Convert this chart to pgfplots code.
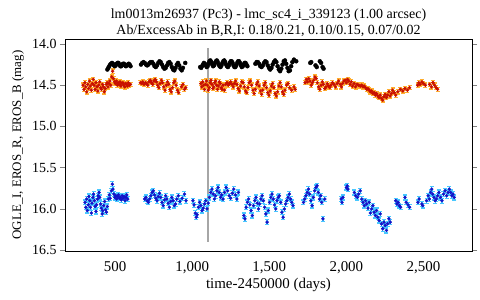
\documentclass[border=0pt]{standalone}
\usepackage{pgfplots}
\usepackage{pgfplotstable}
\pgfplotsset{compat=1.18}
\usepackage{fontspec}
\setmainfont{Liberation Serif}
\definecolor{redpt}{HTML}{C81000}
\definecolor{orhalo}{HTML}{FFAE30}
\definecolor{bluept}{HTML}{1414C8}
\definecolor{cyhalo}{HTML}{48C8FF}

\pgfplotstableread{
x y
450 14.31
456 14.29
462 14.27
468 14.25
474 14.24
480 14.23
486 14.24
492 14.26
498 14.27
504 14.26
510 14.24
516 14.23
522 14.23
528 14.25
534 14.27
540 14.27
546 14.25
552 14.24
558 14.24
564 14.26
570 14.27
576 14.26
582 14.25
588 14.24
594 14.25
600 14.27
668 14.25
676 14.23
684 14.22
692 14.23
700 14.25
708 14.26
716 14.25
724 14.23
732 14.22
740 14.22
748 14.24
756 14.27
764 14.28
772 14.26
780 14.23
788 14.21
796 14.22
804 14.25
812 14.28
820 14.30
828 14.29
836 14.26
844 14.23
852 14.22
860 14.24
868 14.28
876 14.31
884 14.32
892 14.29
900 14.25
908 14.23
916 14.26
924 14.30
932 14.32
940 14.29
955 14.23
1052 14.28
1058 14.29
1064 14.27
1070 14.25
1076 14.23
1082 14.24
1088 14.26
1094 14.28
1100 14.27
1106 14.24
1112 14.21
1118 14.20
1124 14.22
1130 14.25
1136 14.27
1142 14.26
1148 14.23
1154 14.21
1160 14.20
1166 14.22
1172 14.25
1178 14.27
1184 14.28
1190 14.26
1196 14.23
1202 14.21
1208 14.20
1214 14.22
1220 14.25
1226 14.27
1232 14.28
1238 14.26
1244 14.23
1250 14.21
1256 14.21
1262 14.23
1268 14.26
1274 14.28
1280 14.28
1286 14.26
1292 14.23
1298 14.21
1304 14.21
1310 14.23
1316 14.26
1322 14.28
1328 14.27
1334 14.25
1340 14.23
1346 14.23
1352 14.25
1358 14.27
1410 14.24
1418 14.22
1426 14.22
1434 14.24
1442 14.27
1450 14.28
1458 14.26
1466 14.23
1474 14.21
1482 14.22
1490 14.26
1498 14.29
1506 14.31
1514 14.29
1522 14.25
1530 14.22
1538 14.20
1546 14.22
1554 14.27
1562 14.31
1570 14.33
1578 14.30
1586 14.25
1594 14.21
1602 14.20
1610 14.24
1618 14.29
1626 14.33
1634 14.32
1642 14.27
1650 14.22
1660 14.19
1675 14.21
1766 14.23
1772 14.22
1800 14.26
1808 14.28
1828 14.21
1836 14.23
1846 14.28
1852 14.30
}\tblack

\pgfplotstableread{
x y
292 14.50
298 14.55
304 14.47
310 14.52
316 14.58
322 14.49
328 14.54
334 14.45
340 14.51
346 14.56
352 14.48
358 14.43
364 14.50
370 14.55
376 14.47
382 14.52
388 14.57
394 14.50
400 14.46
406 14.53
412 14.55
418 14.49
424 14.52
430 14.58
436 14.54
442 14.49
448 14.47
454 14.52
460 14.48
466 14.45
472 14.50
478 14.40
484 14.33
490 14.42
496 14.46
502 14.48
508 14.45
514 14.50
520 14.47
526 14.49
532 14.46
538 14.51
544 14.48
550 14.47
556 14.50
562 14.52
568 14.48
574 14.49
580 14.51
586 14.47
592 14.50
600 14.49
664 14.47
672 14.48
680 14.46
688 14.49
696 14.47
704 14.48
712 14.50
720 14.46
728 14.44
736 14.47
744 14.49
752 14.45
760 14.43
768 14.46
776 14.50
784 14.53
792 14.48
800 14.44
808 14.47
816 14.52
824 14.56
832 14.50
840 14.46
848 14.49
856 14.55
864 14.58
872 14.53
880 14.47
888 14.45
896 14.50
904 14.56
912 14.59
930 14.52
940 14.49
950 14.55
958 14.53
1056 14.48
1062 14.52
1068 14.46
1074 14.50
1080 14.55
1086 14.49
1092 14.45
1098 14.50
1104 14.56
1110 14.53
1116 14.47
1122 14.44
1128 14.49
1134 14.54
1140 14.52
1146 14.47
1152 14.45
1158 14.50
1164 14.55
1170 14.51
1176 14.46
1182 14.48
1188 14.53
1194 14.55
1200 14.50
1210 14.56
1218 14.49
1226 14.47
1234 14.50
1242 14.48
1250 14.46
1258 14.49
1266 14.52
1274 14.48
1282 14.45
1290 14.49
1298 14.54
1306 14.57
1314 14.51
1322 14.46
1330 14.47
1338 14.52
1346 14.57
1354 14.59
1362 14.53
1370 14.47
1378 14.45
1386 14.50
1394 14.56
1402 14.60
1410 14.55
1418 14.49
1426 14.46
1434 14.51
1442 14.57
1450 14.61
1458 14.56
1466 14.50
1474 14.47
1482 14.53
1490 14.59
1498 14.62
1506 14.57
1514 14.51
1522 14.48
1530 14.53
1538 14.60
1546 14.63
1554 14.58
1562 14.51
1570 14.47
1578 14.52
1586 14.58
1594 14.61
1602 14.56
1612 14.50
1622 14.48
1632 14.53
1645 14.56
1660 14.52
1668 14.55
1732 14.47
1740 14.43
1748 14.46
1756 14.42
1764 14.45
1772 14.50
1780 14.47
1788 14.44
1796 14.40
1804 14.42
1812 14.47
1820 14.52
1828 14.55
1836 14.50
1844 14.46
1852 14.49
1860 14.54
1868 14.52
1876 14.48
1884 14.51
1892 14.53
1900 14.50
1910 14.47
1920 14.49
1930 14.52
1940 14.48
1950 14.45
1960 14.49
1968 14.52
1976 14.48
1984 14.45
1992 14.44
2000 14.47
2008 14.43
2016 14.45
2024 14.49
2032 14.46
2040 14.51
2050 14.48
2060 14.52
2070 14.49
2080 14.50
2090 14.51
2100 14.50
2108 14.52
2116 14.51
2124 14.53
2132 14.55
2140 14.54
2148 14.56
2156 14.58
2164 14.57
2172 14.60
2180 14.59
2188 14.62
2196 14.60
2204 14.63
2212 14.65
2220 14.62
2228 14.66
2236 14.68
2244 14.64
2252 14.61
2260 14.65
2268 14.62
2276 14.58
2284 14.63
2292 14.60
2300 14.56
2310 14.59
2320 14.62
2334 14.58
2350 14.55
2366 14.57
2380 14.54
2396 14.56
2410 14.53
2462 14.50
2470 14.47
2478 14.49
2490 14.46
2500 14.48
2512 14.50
2540 14.49
2552 14.52
2562 14.47
2572 14.50
2582 14.53
2592 14.55
}\tred

\pgfplotstableread{
x y
305 15.92
310 15.98
316 15.88
320 16.02
326 15.95
330 15.85
336 15.90
340 15.98
346 16.05
350 15.93
356 15.86
360 15.82
366 15.90
370 15.97
376 16.03
380 15.95
386 15.88
390 15.84
396 15.80
400 15.86
406 15.94
410 15.99
416 16.06
420 16.02
426 15.96
432 15.91
438 16.01
444 16.04
450 15.97
456 15.88
462 15.83
468 15.87
476 15.78
482 15.70
486 15.76
492 15.82
498 15.86
504 15.84
510 15.88
516 15.85
522 15.83
528 15.87
534 15.86
540 15.89
546 15.84
552 15.87
558 15.85
564 15.90
570 15.86
576 15.83
582 15.88
692 15.88
700 15.86
708 15.90
716 15.92
724 15.88
732 15.84
740 15.80
748 15.78
756 15.83
764 15.87
772 15.90
780 15.85
788 15.81
796 15.86
804 15.92
812 15.96
820 15.89
828 15.84
836 15.88
844 15.93
852 15.98
860 15.91
868 15.86
876 15.90
884 15.96
892 15.94
900 15.88
910 15.84
920 15.91
935 15.87
950 15.82
960 15.90
1005 15.90
1012 15.95
1020 16.05
1026 16.10
1032 16.07
1040 15.98
1048 15.92
1056 15.96
1064 16.02
1072 15.99
1080 15.94
1088 15.90
1096 16.00
1104 15.93
1112 15.86
1120 15.80
1128 15.76
1136 15.82
1144 15.88
1152 15.84
1160 15.78
1168 15.74
1176 15.80
1184 15.86
1192 15.83
1200 15.88
1210 15.80
1220 15.74
1230 15.78
1240 15.84
1250 15.87
1260 15.81
1270 15.76
1280 15.83
1290 15.88
1300 15.80
1335 16.08
1342 16.12
1350 15.98
1358 15.92
1366 15.88
1374 15.95
1382 16.02
1390 16.08
1398 15.96
1406 15.90
1414 15.86
1422 15.93
1430 16.00
1438 15.94
1446 15.88
1454 15.84
1462 15.90
1470 15.98
1478 16.06
1486 16.16
1494 16.02
1502 15.92
1510 15.86
1518 15.82
1526 15.88
1534 15.95
1542 16.00
1550 15.90
1558 15.86
1566 15.84
1574 15.92
1582 16.04
1590 16.10
1598 16.00
1606 15.94
1614 15.90
1622 15.86
1630 15.82
1638 15.88
1646 15.92
1654 15.96
1722 15.92
1730 15.88
1738 15.84
1746 15.80
1754 15.76
1762 15.82
1770 15.90
1778 15.96
1786 15.86
1794 15.78
1802 15.74
1810 15.72
1818 15.80
1826 15.88
1834 15.84
1840 15.92
1848 16.12
1860 15.88
1966 15.88
1972 15.92
1978 15.86
2000 15.74
2006 15.72
2010 15.76
2052 15.80
2060 15.84
2072 15.86
2080 15.82
2090 15.78
2100 15.88
2108 15.92
2116 15.96
2124 15.90
2132 15.94
2140 15.99
2148 15.92
2156 16.05
2164 16.00
2172 15.96
2180 16.04
2188 16.08
2196 16.02
2204 16.10
2212 16.14
2220 16.06
2228 16.18
2236 16.24
2244 16.16
2252 16.20
2260 16.26
2268 16.18
2276 16.12
2284 16.16
2320 15.90
2328 15.94
2336 15.92
2344 15.96
2352 15.98
2380 15.86
2388 15.92
2400 15.95
2410 15.98
2464 15.92
2472 15.88
2490 15.94
2496 15.96
2520 15.90
2530 15.84
2538 15.88
2546 15.80
2554 15.76
2560 15.82
2568 15.86
2576 15.90
2584 15.88
2592 15.84
2600 15.80
2610 15.86
2620 15.90
2630 15.82
2640 15.78
2650 15.84
2660 15.80
2668 15.76
2676 15.80
2684 15.84
2692 15.82
2700 15.86
}\tblue

\begin{document}
\begin{tikzpicture}
\begin{axis}[
  name=ax,
  scale only axis,
  width=407bp, height=212bp,
  xmin=175, xmax=2815,
  ymin=13.94, ymax=16.51,
  y dir=reverse,
  axis line style={line width=0.8bp},
  xtick={500,1000,1500,2000,2500},
  ytick={14,14.5,15,15.5,16,16.5},
  major x tick style={draw=none},
  major y tick style={line width=0.8bp},
  tick align=outside,
  major tick length=5bp,
  /pgf/number format/assume math mode=true,
  x tick label style={/pgf/number format/.cd, 1000 sep={,}, /tikz/.cd, font=\fontsize{15}{17}\selectfont, yshift=-2bp},
  y tick label style={/pgf/number format/.cd, fixed, fixed zerofill, precision=1, /tikz/.cd, font=\fontsize{14}{16}\selectfont},
  title={lm0013m26937 (Pc3) - lmc\_sc4\_i\_339123 (1.00 arcsec)\\Ab/ExcessAb in B,R,I: 0.18/0.21, 0.10/0.15, 0.07/0.02},
  title style={align=center, font=\fontsize{14}{16}\selectfont, at={(axis description cs:0.5,1.047)}, anchor=center},
  xlabel={time-2450000 (days)},
  xlabel style={font=\fontsize{15}{17}\selectfont, at={(axis description cs:0.5,-0.16)}, anchor=center},
  ylabel={OGLE\_I, EROS\_R, EROS\_B (mag)},
  ylabel style={font=\fontsize{13}{15}\selectfont, at={(axis description cs:-0.1155,0.5)}, anchor=center},
  clip=true,
]
\addplot[gray!70, line width=1.2bp, forget plot] coordinates {(1102,14.05) (1102,16.40)};
\addplot[only marks, mark=*, mark size=2bp, black] table[x=x,y=y] {\tblack};
\addplot[draw=none, mark=none, forget plot,
  error bars/.cd, y dir=both, y fixed=0.025,
  error bar style={orhalo, line width=1.3bp},
  error mark options={rotate=90, mark size=2bp, orhalo, line width=1.3bp}] table[x=x,y=y] {\tred};
\addplot[only marks, mark=*, mark size=1.5bp, redpt] table[x=x,y=y] {\tred};
\addplot[draw=none, mark=none, forget plot,
  error bars/.cd, y dir=both, y fixed=0.03,
  error bar style={cyhalo, line width=1.3bp},
  error mark options={rotate=90, mark size=2bp, cyhalo, line width=1.3bp}] table[x=x,y=y] {\tblue};
\addplot[only marks, mark=*, mark size=1.5bp, bluept] table[x=x,y=y] {\tblue};
\end{axis}
\pgfresetboundingbox
\path[use as bounding box] ([xshift=-65bp,yshift=-49bp]ax.south west) rectangle ([xshift=8bp,yshift=39bp]ax.north east);
\end{tikzpicture}
\end{document}
